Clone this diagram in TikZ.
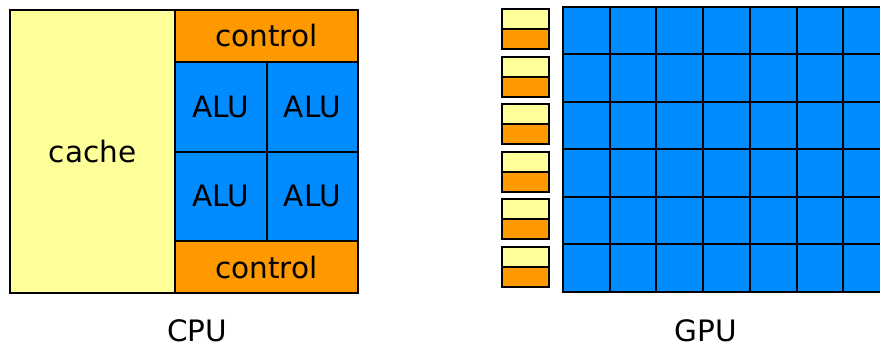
\documentclass[tikz,border=0pt]{standalone}
\usepackage{fontspec}
\setmainfont{DejaVu Sans}
\usetikzlibrary{positioning}

\definecolor{cacheyellow}{HTML}{FFFF99}
\definecolor{ctrlorange}{HTML}{FF9900}
\definecolor{alublue}{HTML}{008BFF}

\begin{document}
\begin{tikzpicture}[x=1pt, y=-1pt, font=\fontsize{29.5}{35}\selectfont]
  \tikzstyle{unit} = [draw, line width=2pt, rectangle, inner sep=0pt, outer sep=0pt, anchor=north west]
  \tikzstyle{cache} = [unit, fill=cacheyellow]
  \tikzstyle{ctrl} = [unit, fill=ctrlorange]
  \tikzstyle{alu} = [unit, fill=alublue, minimum width=91.5pt, minimum height=89.5pt]
  \tikzstyle{caption} = [inner sep=0pt]
  \useasboundingbox (0,0) rectangle (880,345);
  \clip (0,0) rectangle (880,345);

  % CPU: big cache, two control blocks and four ALUs
  \node [cache, minimum width=165pt, minimum height=283pt] (cache) at (10,10) {cache};
  \node [ctrl, minimum width=183pt, minimum height=52pt] (ctrltop) at (cache.north east) {control};
  \node [alu] (alu1) at (ctrltop.south west) {ALU};
  \node [alu] (alu2) at (alu1.north east) {ALU};
  \node [alu] (alu3) at (alu1.south west) {ALU};
  \node [alu] (alu4) at (alu3.north east) {ALU};
  \node [ctrl, minimum width=183pt, minimum height=52pt] (ctrlbot) at (alu3.south west) {control};
  \node [caption] (cpu) at (197,331) {CPU};

  % GPU: small cache/control pairs and a grid of cores
  \foreach \i in {0,...,5} {
    \node [cache, minimum width=47pt, minimum height=20pt] (gcache-\i) at (502,9.3+47.45*\i) {};
    \node [ctrl, minimum width=47pt, minimum height=20pt] (gctrl-\i) at (gcache-\i.south west) {};
  }
  \foreach \r in {0,...,5}
    \foreach \c in {0,...,6}
      \node [unit, fill=alublue, minimum width=46.7pt, minimum height=47.45pt] (core-\r-\c) at (563+46.7*\c,7+47.45*\r) {};
  \node [caption] (gpu) at (706,331) {GPU};
\end{tikzpicture}
\end{document}
